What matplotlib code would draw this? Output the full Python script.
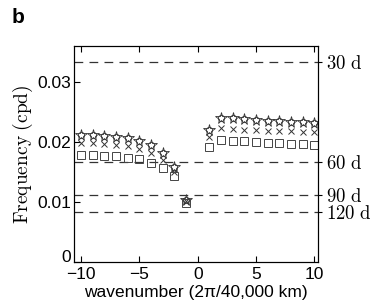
import numpy as np
import matplotlib.pyplot as plt
import matplotlib.transforms as mtransforms

plt.rcParams['mathtext.fontset'] = 'cm'
plt.rcParams['font.family'] = ['Liberation Sans', 'DejaVu Sans']

k_neg = [-10, -9, -8, -7, -6, -5, -4, -3, -2, -1]
k_pos = [1, 2, 3, 4, 5, 6, 7, 8, 9, 10]
wavenumber = k_neg + k_pos

star = [0.0212, 0.0212, 0.0210, 0.0208, 0.0207, 0.0202, 0.0195, 0.0182, 0.0158, 0.0103,
        0.0220, 0.0240, 0.0240, 0.0238, 0.0237, 0.0235, 0.0235, 0.0233, 0.0233, 0.0232]
circ = star
cross = [0.0199, 0.0198, 0.0197, 0.0195, 0.0193, 0.0188, 0.0182, 0.0170, 0.0150, 0.0102,
         0.0208, 0.0223, 0.0222, 0.0220, 0.0220, 0.0219, 0.0218, 0.0218, 0.0217, 0.0216]
square = [0.0179, 0.0178, 0.0177, 0.0176, 0.0174, 0.0171, 0.0165, 0.0157, 0.0143, 0.0098,
          0.0192, 0.0203, 0.0202, 0.0201, 0.0200, 0.0199, 0.0198, 0.0197, 0.0196, 0.0195]

periods = [30, 60, 90, 120]
period_labels = ['30 d', '60 d', '90 d', '120 d']

fig = plt.figure(figsize=(3.74, 3.06), dpi=100)
ax = fig.add_axes([0.198, 0.144, 0.652, 0.706])

for p in periods:
    ax.axhline(1.0 / p, color='#333333', lw=0.9, dashes=(7, 5), zorder=1)

ax.plot(wavenumber, star, ls='none', marker='*', ms=8.5, mfc='none', mec='#333333', mew=0.6)
ax.plot(wavenumber, circ, ls='none', marker='o', ms=4.5, mfc='none', mec='#333333', mew=0.6)
ax.plot(wavenumber, cross, ls='none', marker='x', ms=5, mec='#333333', mew=0.7)
ax.plot(wavenumber, square, ls='none', marker='s', ms=5.5, mfc='none', mec='#444444', mew=0.7)

ax.set_xlim(-10.6, 10.3)
ax.set_ylim(0, 0.036)
ax.set_xticks([-10, -5, 0, 5, 10])
ax.set_xticklabels(['\u221210', '\u22125', '0', '5', '10'])
ax.set_yticks([0, 0.01, 0.02, 0.03])
ax.set_yticklabels(['0', '0.01', '0.02', '0.03'])
ax.tick_params(direction='in', length=4, top=True, right=True, labelsize=12.5, pad=2)
ax.tick_params(axis='x', pad=4)
ax.set_xlabel('wavenumber (2\u03c0/40,000 km)', fontsize=12.5, labelpad=2)
ax.set_ylabel(r'$\mathrm{Frequency\ (cpd)}$', fontsize=14, labelpad=2)

# lift the "0" label a little, as in the original
zero_lbl = ax.get_yticklabels()[0]
zero_lbl.set_transform(zero_lbl.get_transform() +
                       mtransforms.ScaledTranslation(0, 4 / 72, fig.dpi_scale_trans))

ax2 = ax.twinx()
ax2.set_ylim(ax.get_ylim())
ax2.set_yticks([1.0 / p for p in periods])
ax2.set_yticklabels([r'$\mathrm{' + s.replace(' ', r'\ ') + '}$' for s in period_labels])
ax2.tick_params(direction='out', length=3, labelsize=13.5, pad=3)

fig.text(0.03, 0.925, 'b', fontsize=15, fontweight='bold')

fig.savefig('out.png', dpi=100)
